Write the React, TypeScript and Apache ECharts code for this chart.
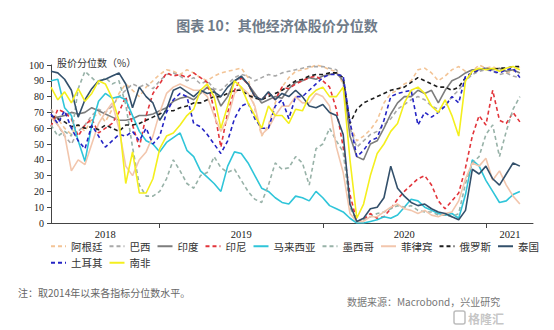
import React, { useEffect, useRef } from 'react';
import * as echarts from 'echarts';

// semi-monthly observation dates (1st and 16th), May 2018 – Mar 2021
const dates: string[] = (() => {
  const out: string[] = [];
  let y = 2018;
  let m = 5;
  while (out.length < 70) {
    const mm = String(m).padStart(2, '0');
    out.push(`${y}-${mm}-01`);
    if (out.length < 70) out.push(`${y}-${mm}-16`);
    m++;
    if (m > 12) { m = 1; y++; }
  }
  return out;
})();

const names = ['阿根廷', '巴西', '印度', '印尼', '马来西亚', '墨西哥', '菲律宾', '俄罗斯', '泰国', '土耳其', '南非'];

const argentina = [72, 66, 60, 56, 62, 58, 66, 70, 64, 72, 82, 88, 84, 80, 86, 90, 94, 97,
  96, 94, 97, 95, 92, 90, 93, 95, 96, 97, 98, 92, 72, 55, 62, 76, 86,
  92, 96, 97, 98, 100, 99, 97, 96, 88, 62, 52, 55, 59, 65, 76, 82, 84,
  88, 90, 97, 98, 95, 90, 93, 97, 99, 96, 96, 100, 98, 99, 97, 95, 96, 99];
const brazil = [72, 62, 55, 50, 58, 62, 68, 72, 70, 74, 80, 84, 88, 86, 88, 85, 90, 94,
  95, 93, 90, 92, 88, 90, 85, 84, 88, 92, 94, 93, 90, 92, 94, 93, 95,
  96, 97, 98, 99, 99, 99, 98, 97, 90, 60, 48, 52, 56, 58, 62, 66, 72,
  75, 78, 80, 78, 74, 72, 74, 80, 84, 90, 94, 96, 97, 96, 94, 95, 93, 92];
const india = [66, 67, 68, 70, 69, 70, 73, 71, 69, 67, 65, 65, 66, 68, 68, 69, 71, 73,
  77, 79, 80, 78, 82, 86, 84, 74, 80, 90, 92, 88, 82, 76, 78, 80, 79,
  85, 89, 90, 92, 91, 93, 94, 95, 90, 55, 42, 40, 50, 52, 60, 69, 76,
  80, 80, 84, 82, 84, 76, 84, 90, 92, 95, 97, 97, 98, 97, 98, 96, 97, 95];
const indonesia = [61, 72, 70, 66, 55, 62, 66, 57, 60, 63, 70, 80, 62, 48, 68, 82, 88, 95,
  93, 94, 92, 95, 92, 89, 72, 48, 70, 84, 92, 88, 80, 78, 82, 78, 86,
  85, 88, 90, 92, 93, 90, 86, 72, 48, 18, 1, 2, 6, 3, 4, 9, 15,
  20, 24, 28, 30, 24, 14, 9, 14, 19, 35, 55, 68, 62, 84, 65, 63, 70, 64];
const malaysia = [90, 91, 73, 68, 52, 39, 62, 77, 82, 79, 80, 78, 68, 58, 52, 50, 45, 51,
  54, 57, 46, 42, 33, 29, 25, 20, 36, 45, 44, 38, 30, 22, 20, 16, 13,
  12, 17, 16, 14, 20, 16, 11, 9, 7, 3, 0, 0, 1, 2, 4, 3, 5,
  10, 15, 14, 10, 8, 6, 5, 6, 3, 18, 40, 36, 27, 20, 13, 14, 18, 20];
const mexico = [62, 55, 58, 55, 85, 96, 92, 88, 92, 88, 90, 75, 48, 24, 17, 17, 20, 28,
  40, 33, 25, 22, 30, 32, 42, 35, 32, 34, 27, 20, 15, 13, 24, 38, 34,
  35, 42, 38, 24, 47, 50, 60, 52, 45, 10, 1, 2, 4, 6, 7, 9, 11,
  10, 11, 8, 7, 7, 5, 5, 4, 6, 25, 38, 42, 56, 62, 42, 58, 72, 80];
const philippines = [67, 62, 56, 33, 40, 37, 50, 63, 70, 76, 60, 36, 30, 40, 45, 55, 70, 82,
  86, 88, 86, 84, 84, 80, 68, 58, 66, 82, 86, 82, 74, 56, 60, 68, 74,
  74, 80, 76, 76, 82, 80, 74, 48, 32, 6, 1, 1, 4, 4, 7, 10, 12,
  9, 8, 6, 8, 5, 4, 6, 7, 14, 28, 38, 36, 41, 27, 33, 24, 17, 12];
const russia = [68, 66, 64, 61, 62, 60, 61, 59, 62, 60, 58, 62, 62, 63, 65, 67, 69, 71,
  71, 73, 74, 76, 76, 78, 80, 80, 82, 84, 84, 81, 79, 78, 80, 82, 84,
  87, 90, 91, 93, 94, 94, 95, 95, 92, 63, 72, 76, 78, 80, 82, 84, 85,
  86, 89, 92, 90, 88, 86, 86, 84, 86, 92, 95, 97, 98, 97, 98, 98, 99, 99];
const thailand = [96, 95, 91, 84, 67, 78, 85, 90, 91, 93, 95, 88, 73, 86, 80, 76, 65, 72,
  84, 86, 83, 80, 84, 82, 83, 80, 86, 90, 93, 88, 80, 78, 83, 78, 82,
  80, 84, 80, 74, 73, 75, 70, 68, 56, 12, 1, 3, 9, 10, 16, 36, 22,
  17, 13, 11, 12, 9, 7, 6, 4, 2, 8, 34, 31, 36, 28, 24, 31, 38, 36];
const turkey = [69, 63, 71, 60, 52, 47, 62, 55, 48, 52, 56, 55, 58, 52, 60, 50, 55, 70,
  78, 82, 80, 63, 61, 56, 50, 44, 52, 66, 74, 76, 66, 60, 60, 74, 78,
  66, 80, 80, 84, 88, 92, 94, 94, 93, 64, 42, 46, 52, 54, 65, 80, 82,
  83, 84, 62, 70, 67, 70, 74, 80, 76, 93, 95, 97, 98, 96, 95, 97, 98, 92];
const southAfrica = [86, 78, 83, 76, 85, 77, 82, 90, 88, 79, 65, 25, 45, 19, 19, 28, 47, 55,
  57, 62, 68, 72, 84, 88, 80, 60, 74, 90, 86, 76, 68, 60, 74, 68, 68,
  63, 72, 71, 80, 84, 86, 80, 80, 86, 40, 3, 12, 30, 44, 50, 58, 63,
  76, 84, 86, 82, 74, 70, 78, 68, 55, 90, 96, 98, 97, 98, 96, 98, 99, 97];

const seriesValues = [argentina, brazil, india, indonesia, malaysia, mexico, philippines, russia, thailand, turkey, southAfrica];
const colors = ['#f3c496', '#a9a9a9', '#7d7d7d', '#e2353b', '#2fc5d9', '#98b2a8', '#f2c6ad', '#1e1e1e', '#33506b', '#2424c4', '#f4ef1e'];
const dashed = [true, true, false, true, false, true, false, true, false, true, false];

const yearTicks = ['2019-01-01', '2020-01-01', '2021-01-01'];
const yearLabelAt = ['2018-09-01', '2019-07-01', '2020-07-01', '2021-02-24'];
const axisStart = '2018-05-01';
const axisEnd = '2021-04-15';

// months elapsed since 2018-01-01 (fractional), used as the x scale
const toMonths = (s: string) => {
  const [y, m, d] = s.split('-').map(Number);
  return (y - 2018) * 12 + (m - 1) + (d - 1) / 30;
};

export default function App() {
  const ref = useRef<HTMLDivElement>(null);
  useEffect(() => {
    if (!ref.current) return;
    const chart = echarts.init(ref.current, undefined, { renderer: 'svg' });
    const option: any = {
      animation: false,
      backgroundColor: '#ffffff',
      title: {
        text: '图表 10：其他经济体股价分位数',
        left: 'center',
        top: 13,
        textStyle: { fontFamily: 'Noto Sans CJK SC', fontSize: 14, fontWeight: 'bold', color: '#6f7b89' },
      },
      grid: { left: 51, right: 21, top: 65, bottom: 107 },
      xAxis: {
        type: 'value',
        min: toMonths(axisStart),
        max: toMonths(axisEnd),
        axisLine: { show: true, lineStyle: { color: '#444', width: 1 } },
        axisTick: { show: true, inside: false, length: 5, customValues: yearTicks.map(toMonths), lineStyle: { color: '#444' } },
        axisLabel: {
          customValues: yearLabelAt.map(toMonths),
          formatter: (v: number) => String(2018 + Math.floor(v / 12)),
          fontFamily: 'Liberation Serif',
          fontSize: 10.5,
          color: '#222',
          margin: 6,
        },
        splitLine: { show: false },
      },
      yAxis: {
        type: 'value',
        min: 0,
        max: 100,
        interval: 10,
        axisLine: { show: true, lineStyle: { color: '#444', width: 1 } },
        axisTick: { show: true, inside: false, length: 4, lineStyle: { color: '#444' } },
        axisLabel: { fontFamily: 'Liberation Serif', fontSize: 10, color: '#222', margin: 7 },
        splitLine: { show: false },
      },
      legend: {
        data: names,
        left: 50,
        top: 241,
        width: 490,
        itemWidth: 15,
        itemHeight: 10,
        itemGap: 6,
        padding: 0,
        itemStyle: { opacity: 0 },
        textStyle: { fontFamily: 'Noto Sans CJK SC', fontSize: 10.5, color: '#333', lineHeight: 10 },
      },
      graphic: [
        {
          type: 'text', left: 57, top: 57, z: 100,
          style: { text: '股价分位数（%）', font: '10px "Noto Sans CJK SC"', fill: '#333' },
        },
        {
          type: 'text', left: 18, top: 287,
          style: { text: '注：取2014年以来各指标分位数水平。', font: '10px "Noto Sans CJK SC"', fill: '#666' },
        },
        {
          type: 'text', left: 347, top: 296,
          style: { text: '数据来源：Macrobond，兴业研究', font: '10px "Noto Sans CJK SC"', fill: '#777' },
        },
        {
          type: 'rect', shape: { x: 454, y: 311, width: 11, height: 13, r: 2 },
          style: { fill: 'none', stroke: 'rgba(160,160,160,0.7)', lineWidth: 1.5 },
        },
        {
          type: 'text', left: 468, top: 312,
          style: { text: '格隆汇', font: 'bold 12px "Noto Sans CJK SC"', fill: 'rgba(160,160,160,0.6)' },
        },
      ],
      series: names.map((name, k) => ({
        name,
        type: 'line',
        data: dates.map((d, i) => [toMonths(d), seriesValues[k][i]]),
        showSymbol: false,
        symbol: 'none',
        color: colors[k],
        lineStyle: { color: colors[k], width: 1.6, type: dashed[k] ? [4, 3] : 'solid' },
        z: 2 + k,
      })),
    };
    chart.setOption(option);
    return () => chart.dispose();
  }, []);
  return <div ref={ref} style={{ position: 'fixed', left: 0, top: 0, width: 554, height: 330, background: '#fff' }} />;
}
